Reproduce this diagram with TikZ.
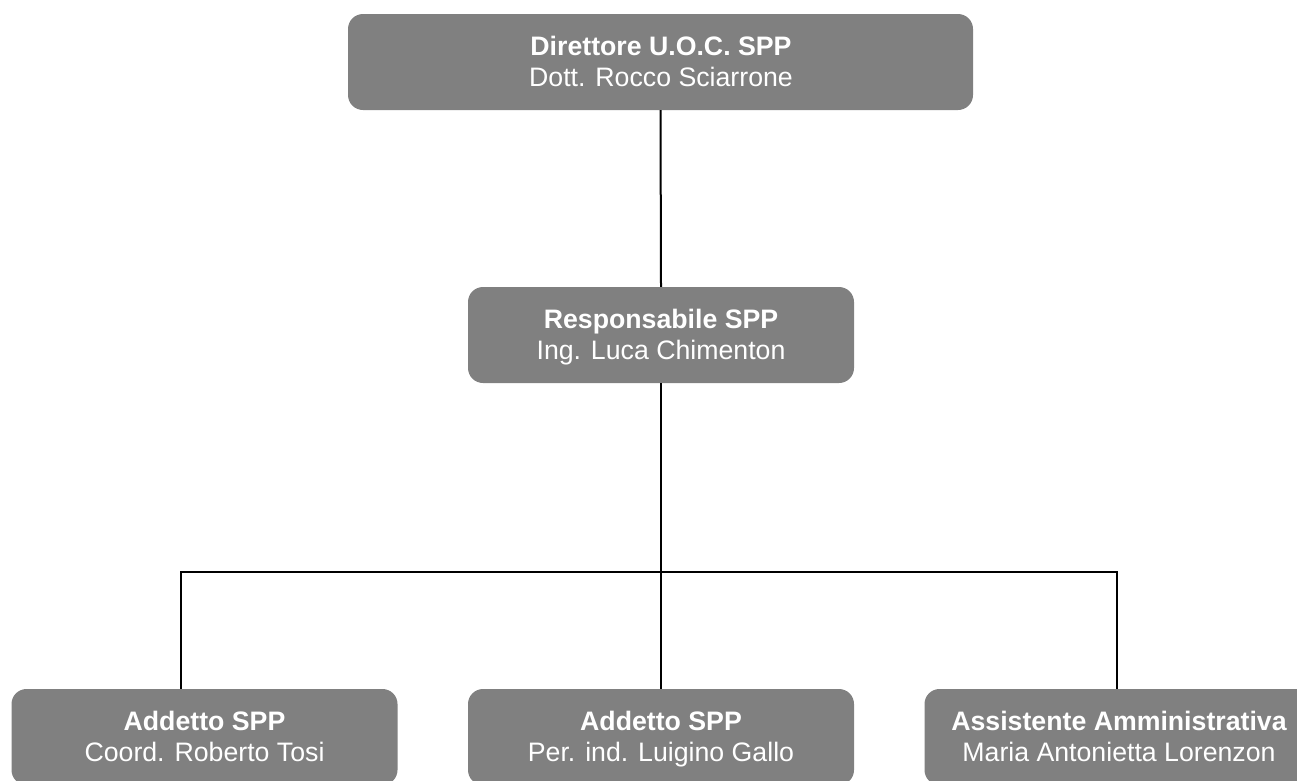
\documentclass[tikz,border=0pt]{standalone}
\usepackage{fontspec}
\setmainfont{Liberation Sans}
\definecolor{boxgray}{HTML}{808080}
\begin{document}
\begin{tikzpicture}[x=1pt,y=-1pt,
  orgbox/.style={draw=none,fill=boxgray,rounded corners=15pt,minimum width=386pt,minimum height=96pt,inner sep=0pt},
  wide/.style={minimum width=625pt},
  txt/.style={text=white,inner sep=0pt,anchor=base,font=\fontsize{26.7}{30.7}\selectfont},
  conn/.style={draw=black,line width=2pt}]
\useasboundingbox (0,0) rectangle (1297,780);
% boxes
\node[orgbox,wide] (top) at (660.5,62) {};
\node[orgbox] (mid) at (661,335) {};
\node[orgbox] (bl) at (204.5,737) {};
\node[orgbox] (bm) at (661,737) {};
\node[orgbox] (br) at (1117.5,737) {};
% texts
\node[txt] (top1) at (661,55) {\bfseries Direttore U.O.C. SPP};
\node[txt] (top2) at (661,86) {Dott. Rocco Sciarrone};
\node[txt] (mid1) at (661,328) {\bfseries Responsabile SPP};
\node[txt] (mid2) at (661,359) {Ing. Luca Chimenton};
\node[txt] (bl1) at (204.5,730) {\bfseries Addetto SPP};
\node[txt] (bl2) at (204.5,761) {Coord. Roberto Tosi};
\node[txt] (bm1) at (661,730) {\bfseries Addetto SPP};
\node[txt] (bm2) at (661,761) {Per. ind. Luigino Gallo};
\node[txt] (br1) at (1119,730) {\bfseries Assistente Amministrativa};
\node[txt] (br2) at (1119,761) {Maria Antonietta Lorenzon};
% connectors
\coordinate (hl) at (181,572);
\coordinate (hr) at (1117,572);
\draw[conn] (top.south) -- (mid.north);
\draw[conn] (mid.south) -- (bm.north);
\draw[conn] (bl.north -| hl) -- (hl) -- (hr) -- (br.north -| hr);
\end{tikzpicture}
\end{document}
